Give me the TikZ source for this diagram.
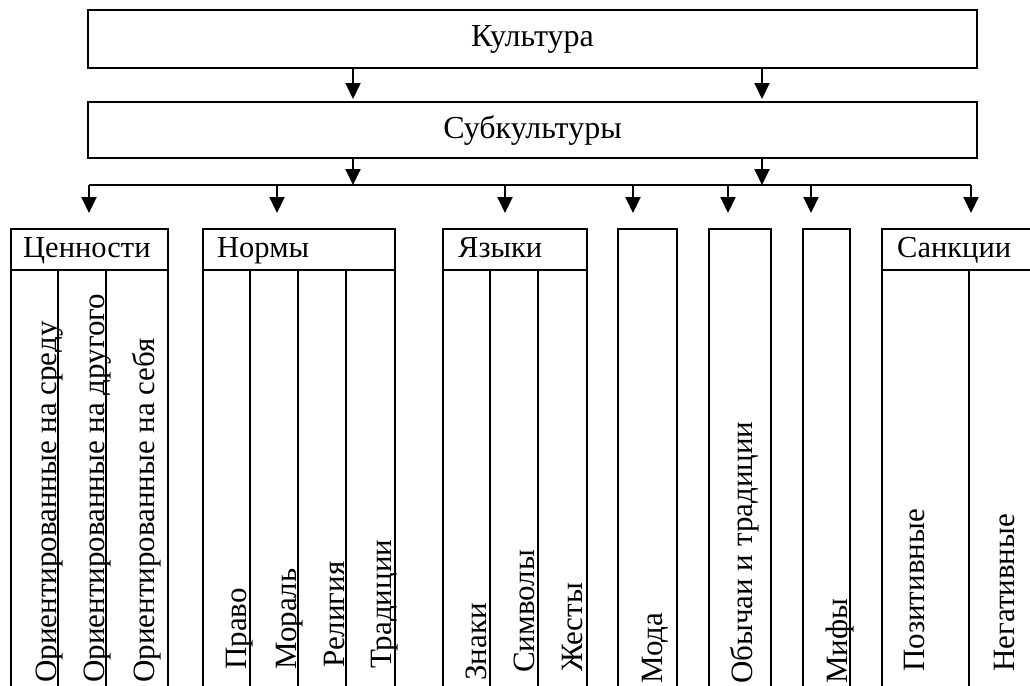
\documentclass[tikz,border=0pt]{standalone}
\usepackage{fontspec}
\setmainfont{Liberation Serif}
\usetikzlibrary{arrows.meta}
\begin{document}
\begin{tikzpicture}[x=1pt,y=-1pt,
  every node/.style={font=\fontsize{31}{36}\selectfont},
  bigbox/.style={draw, line width=2pt, rectangle, inner sep=0pt, minimum width=889pt},
  grpbox/.style={draw, line width=2pt, rectangle, inner sep=0pt, anchor=north west, minimum height=480pt},
  divline/.style={line width=2pt},
  hdr/.style={anchor=base west, inner sep=0pt, font=\fontsize{30.5}{36}\selectfont},
  vtxt/.style={rotate=90, anchor=base west, inner sep=0pt},
  arr/.style={line width=2pt, -{Triangle[width=15pt,length=16pt]}},
  conn/.style={line width=2pt}]
\useasboundingbox (0,0) rectangle (1030,685);
\clip (0,0) rectangle (1030,685);
\fill[white] (0,0) rectangle (1030,685);

% top boxes
\node[bigbox, minimum height=58pt, font=\fontsize{32}{36}\selectfont] (kult) at (532.5,39) {Культура};
\node[bigbox, minimum height=56pt, font=\fontsize{32}{36}\selectfont] (sub) at (532.5,130) {Субкультуры};

% arrows Культура -> Субкультуры
\coordinate (ka) at (353,68);
\coordinate (kb) at (762,68);
\draw[arr, shorten >=2pt] (ka) -- (ka |- sub.north);
\draw[arr, shorten >=2pt] (kb) -- (kb |- sub.north);

% group boxes
\node[grpbox, minimum width=157pt] (val) at (10,228) {};
\node[grpbox, minimum width=192pt] (norm) at (202,228) {};
\node[grpbox, minimum width=144pt] (lang) at (442,228) {};
\node[grpbox, minimum width=59pt] (moda) at (617,228) {};
\node[grpbox, minimum width=62pt] (cust) at (708,228) {};
\node[grpbox, minimum width=47pt] (myth) at (802,228) {};
\node[grpbox, minimum width=176pt] (sanc) at (881,228) {};

% distribution line
\coordinate (hl) at (89,185);
\coordinate (hr) at (971,185);
\coordinate (sa) at (353,158);
\coordinate (sb) at (762,158);
\draw[arr] (sa) -- (sa |- hl);
\draw[arr] (sb) -- (sb |- hl);
\draw[conn] (hl) -- (hr);

\coordinate (d1) at (89,185);
\coordinate (d2) at (277,185);
\coordinate (d3) at (505,185);
\coordinate (d4) at (633,185);
\coordinate (d5) at (728,185);
\coordinate (d6) at (811,185);
\coordinate (d7) at (971,185);
\draw[arr, shorten >=15pt] (d1) -- (d1 |- val.north);
\draw[arr, shorten >=15pt] (d2) -- (d2 |- norm.north);
\draw[arr, shorten >=15pt] (d3) -- (d3 |- lang.north);
\draw[arr, shorten >=15pt] (d4) -- (d4 |- moda.north);
\draw[arr, shorten >=15pt] (d5) -- (d5 |- cust.north);
\draw[arr, shorten >=15pt] (d6) -- (d6 |- myth.north);
\draw[arr, shorten >=15pt] (d7) -- (d7 |- sanc.north);

% header dividers
\draw[divline] (val.west |- 0,270) -- (val.east |- 0,270);
\draw[divline] (norm.west |- 0,270) -- (norm.east |- 0,270);
\draw[divline] (lang.west |- 0,270) -- (lang.east |- 0,270);
\draw[divline] (sanc.west |- 0,270) -- (sanc.east |- 0,270);

% column dividers
\draw[divline] (58,270) -- (58,710);
\draw[divline] (106,270) -- (106,710);
\draw[divline] (250,270) -- (250,710);
\draw[divline] (298,270) -- (298,710);
\draw[divline] (346,270) -- (346,710);
\draw[divline] (490,270) -- (490,710);
\draw[divline] (538,270) -- (538,710);
\draw[divline] (969,270) -- (969,710);

% headers
\node[hdr] (hval) at (23,257) {Ценности};
\node[hdr] (hnorm) at (217,257) {Нормы};
\node[hdr] (hlang) at (458,257) {Языки};
\node[hdr] (hsanc) at (897,257) {Санкции};

% vertical texts
\node[vtxt] at (56,683) {Ориентированные на среду};
\node[vtxt] at (104,683) {Ориентированные на другого};
\node[vtxt] at (154,683) {Ориентированные на себя};
\node[vtxt] at (246,670) {Право};
\node[vtxt] at (296,670) {Мораль};
\node[vtxt] at (344,668) {Религия};
\node[vtxt] at (391,669) {Традиции};
\node[vtxt] at (486,681) {Знаки};
\node[vtxt] at (534,673) {Символы};
\node[vtxt] at (582,672) {Жесты};
\node[vtxt] at (662,684) {Мода};
\node[vtxt] at (752,684) {Обычаи и традиции};
\node[vtxt] at (847,684) {Мифы};
\node[vtxt] at (924,672) {Позитивные};
\node[vtxt] at (1014,672) {Негативные};
\end{tikzpicture}
\end{document}
